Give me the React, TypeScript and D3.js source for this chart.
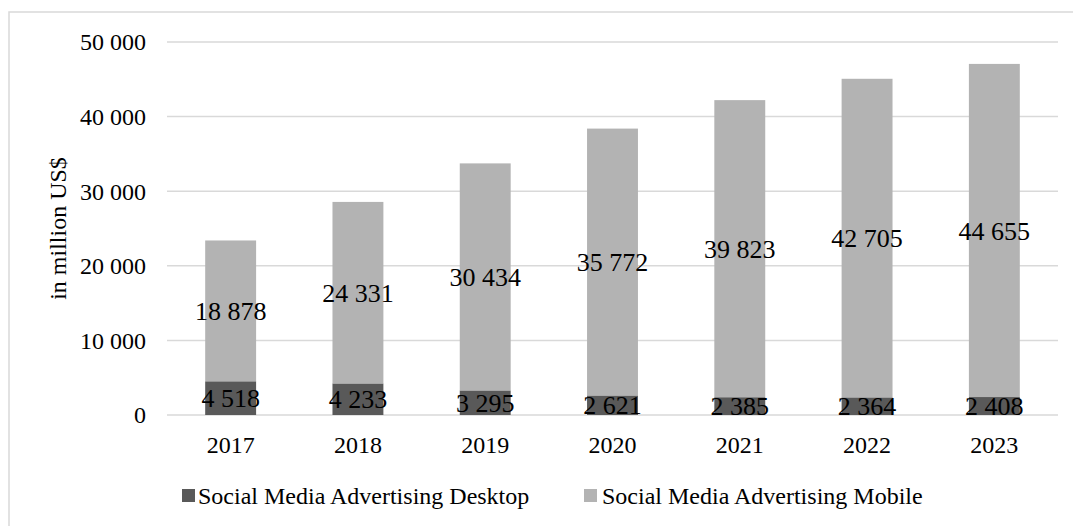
import React from "react";
import * as d3 from "d3";

const years = ["2017", "2018", "2019", "2020", "2021", "2022", "2023"];
const desktop = [4518, 4233, 3295, 2621, 2385, 2364, 2408];
const mobile = [18878, 24331, 30434, 35772, 39823, 42705, 44655];
const yTicks = [0, 10000, 20000, 30000, 40000, 50000];
const seriesNames = ["Social Media Advertising Desktop", "Social Media Advertising Mobile"];
const colors = ["#595959", "#b3b3b3"];

const fmt = (v: number) => d3.format(",")(v).replace(/,/g, " ");

export default function App() {
  const W = 1073, H = 526;
  const left = 167, right = 1058, top = 42, bottom = 415;
  const x = d3.scaleBand().domain(years).range([left, right]).paddingInner(0.6).paddingOuter(0.3);
  const y = d3.scaleLinear().domain([0, 50000]).range([bottom, top]);
  const font = "'Liberation Serif', 'Times New Roman', serif";
  const fs = 24;
  const lfs = 26;

  return (
    <svg width={W} height={H} style={{ position: "absolute", left: 0, top: 0 }} fontFamily={font}>
      <rect x={9} y={12} width={W + 10} height={H + 10} fill="white" stroke="#d9d9d9" strokeWidth={1.5} />
      {yTicks.map((t) => (
        <g key={t}>
          <line x1={left} x2={right} y1={y(t)} y2={y(t)} stroke="#d9d9d9" strokeWidth={1.5} />
          <text x={146} y={y(t)} dy="0.35em" textAnchor="end" fontSize={fs} fill="#000">
            {fmt(t)}
          </text>
        </g>
      ))}
      <text
        transform={`translate(58,${(top + bottom) / 2}) rotate(-90)`}
        textAnchor="middle"
        dy="0.35em"
        fontSize={fs}
      >
        in million US$
      </text>
      {years.map((yr, i) => {
        const bx = x(yr)!;
        const bw = x.bandwidth();
        const d = desktop[i];
        const m = mobile[i];
        return (
          <g key={yr}>
            <rect x={bx} y={y(d)} width={bw} height={y(0) - y(d)} fill={colors[0]} />
            <rect x={bx} y={y(d + m)} width={bw} height={y(d) - y(d + m)} fill={colors[1]} />
            <text x={bx + bw / 2} y={y(d / 2)} dy="0.35em" textAnchor="middle" fontSize={lfs}>
              {fmt(d)}
            </text>
            <text x={bx + bw / 2} y={y(d + m / 2)} dy="0.35em" textAnchor="middle" fontSize={lfs}>
              {fmt(m)}
            </text>
            <text x={bx + bw / 2} y={445} dy="0.35em" textAnchor="middle" fontSize={fs}>
              {yr}
            </text>
          </g>
        );
      })}
      {[
        { mx: 182, tx: 198 },
        { mx: 584, tx: 602 },
      ].map((p, i) => (
        <g key={i}>
          <rect x={p.mx} y={489} width={13} height={13} fill={colors[i]} />
          <text x={p.tx} y={496} dy="0.35em" fontSize={fs}>
            {seriesNames[i]}
          </text>
        </g>
      ))}
    </svg>
  );
}
